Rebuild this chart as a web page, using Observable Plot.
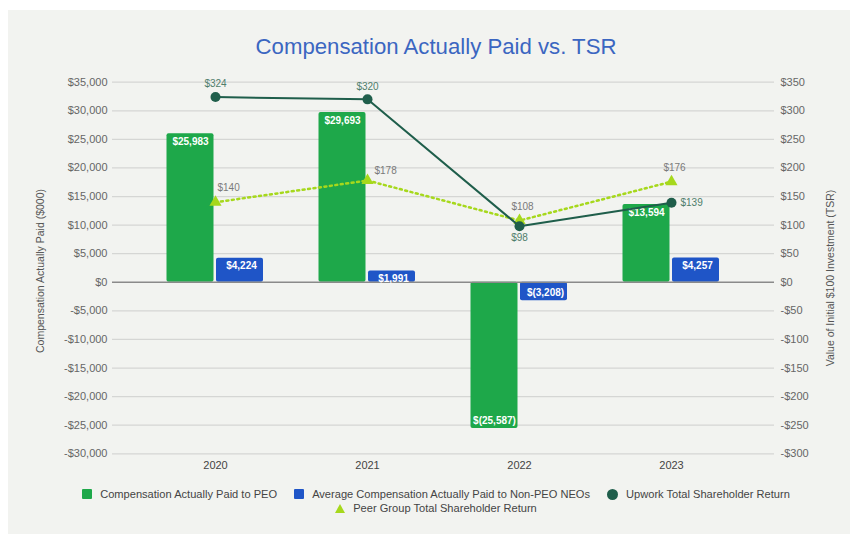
<!DOCTYPE html>
<html>
<head>
<meta charset="utf-8">
<script src="https://cdn.jsdelivr.net/npm/d3@7"></script>
<script src="https://cdn.jsdelivr.net/npm/@observablehq/plot@0.6"></script>
<style>
  body { margin: 0; background: #ffffff; font-family: "Liberation Sans", Arial, sans-serif; }
  #panel { position: absolute; left: 8px; top: 10px; width: 842px; height: 524px; background: #f2f3f0; }
  #title { position: absolute; left: 0; top: 34px; width: 872px; text-align: center; font-size: 22.2px; line-height: 26px; color: #3b66c1; }
  #chart { position: absolute; left: 0; top: 0; }
  .legend-row { position: absolute; left: 0; width: 872px; display: flex; justify-content: center; gap: 17px; font-size: 11.1px; line-height: 14px; color: #444; }
  .item { display: flex; align-items: center; gap: 8px; white-space: nowrap; }
  .sq { width: 10px; height: 10px; border-radius: 1px; }
  .circ { width: 11px; height: 11px; border-radius: 50%; }
  .tri { width: 0; height: 0; border-left: 5px solid transparent; border-right: 5px solid transparent; border-bottom: 9px solid #a6d81c; }
</style>
</head>
<body>
<div id="panel"></div>
<div id="title">Compensation Actually Paid vs. TSR</div>
<div id="chart"></div>
<div class="legend-row" style="top:487px">
  <div class="item"><div class="sq" style="background:#1ea84a"></div>Compensation Actually Paid to PEO</div>
  <div class="item"><div class="sq" style="background:#1f55c7"></div>Average Compensation Actually Paid to Non-PEO NEOs</div>
  <div class="item"><div class="circ" style="background:#1f5e4b"></div>Upwork Total Shareholder Return</div>
</div>
<div class="legend-row" style="top:501px">
  <div class="item"><div class="tri"></div>Peer Group Total Shareholder Return</div>
</div>
<script>
// ---- data ----
const years = ["2020", "2021", "2022", "2023"];
const peoCAP = [25983, 29693, -25587, 13594];       // $000
const neoCAP = [4224, 1991, -3208, 4257];           // $000
const upworkTSR = [324, 320, 98, 139];              // $
const peerTSR = [140, 178, 108, 176];               // $
const leftTicks = [35000, 30000, 25000, 20000, 15000, 10000, 5000, 0, -5000, -10000, -15000, -20000, -25000, -30000];
const rightTicks = [350, 300, 250, 200, 150, 100, 50, 0, -50, -100, -150, -200, -250, -300];

// right axis shares the left scale: $1 TSR == $100 (000) compensation
const K = 100;

const rows = years.map((year, i) => ({
  year, peo: peoCAP[i], neo: neoCAP[i], upwork: upworkTSR[i], peer: peerTSR[i]
}));

const comma = d3.format(",");
const fmtAxis = v => (v < 0 ? "-$" : "$") + comma(Math.abs(v));
const fmtBar = v => v < 0 ? "$(" + comma(-v) + ")" : "$" + comma(v);
const fmtTSR = v => "$" + v;

const GREEN = "#1ea84a", BLUE = "#1f55c7", DARK = "#1f5e4b", LIME = "#a6d81c";

const chart = Plot.plot({
  width: 850,
  height: 480,
  marginLeft: 112,
  marginRight: 76,
  marginTop: 81.7,
  marginBottom: 26.7,
  style: { background: "transparent", fontFamily: "'Liberation Sans', Arial, sans-serif", fontSize: "11px", overflow: "visible" },
  x: { type: "band", domain: years, paddingInner: 0, paddingOuter: 0.176 },
  y: { domain: [-30000, 35000] },
  marks: [
    Plot.ruleY(leftTicks.filter(d => d !== 0), { stroke: "#d5d6d4", strokeWidth: 1.2 }),
    Plot.axisY(leftTicks, { anchor: "left", tickSize: 0, tickPadding: 5, tickFormat: fmtAxis, color: "#666", label: null }),
    Plot.axisY(rightTicks.map(d => d * K), { anchor: "right", tickSize: 0, tickPadding: 6, tickFormat: d => fmtAxis(d / K), color: "#666", label: null }),
    Plot.axisX({ tickSize: 0, tickPadding: 7, color: "#444", label: null }),
    Plot.text(["Compensation Actually Paid ($000)"], { frameAnchor: "left", textAnchor: "middle", dx: -72, dy: 3, rotate: -90, fill: "#555", fontSize: 10.5 }),
    Plot.text(["Value of Initial $100 Investment (TSR)"], { frameAnchor: "right", textAnchor: "middle", dx: 56, dy: 10, rotate: -90, fill: "#555", fontSize: 10.5 }),
    // bars
    Plot.barY(rows, { x: "year", y: "peo", fill: GREEN, insetLeft: 27.5, insetRight: 77.5, rx: 2 }),
    Plot.barY(rows, { x: "year", y: "neo", fill: BLUE, insetLeft: 77, insetRight: 28, rx: 2 }),
    Plot.ruleY([0], { stroke: "#8a8a8a", strokeWidth: 1.5 }),
    // bar labels
    Plot.text(rows, { filter: d => d.peo >= 0, x: "year", y: "peo", text: d => fmtBar(d.peo), dx: -25, dy: 8, fill: "white", fontWeight: "bold", fontSize: 10 }),
    Plot.text(rows, { filter: d => d.peo < 0, x: "year", y: "peo", text: d => fmtBar(d.peo), dx: -25, dy: -8, fill: "white", fontWeight: "bold", fontSize: 10 }),
    Plot.text(rows, { filter: d => d.neo >= 0, x: "year", y: "neo", text: d => fmtBar(d.neo), dx: 26, dy: 8, fill: "white", fontWeight: "bold", fontSize: 10 }),
    Plot.text(rows, { filter: d => d.neo < 0, x: "year", y: "neo", text: d => fmtBar(d.neo), dx: 26, dy: -8, fill: "white", fontWeight: "bold", fontSize: 10 }),
    // peer line (dotted)
    Plot.line(rows, { x: "year", y: d => d.peer * K, stroke: LIME, strokeWidth: 2.5, strokeDasharray: "2 3.5" }),
    Plot.dot(rows, { x: "year", y: d => d.peer * K, symbol: "triangle", r: 4.5, fill: LIME }),
    // upwork line
    Plot.line(rows, { x: "year", y: d => d.upwork * K, stroke: DARK, strokeWidth: 2 }),
    Plot.dot(rows, { x: "year", y: d => d.upwork * K, r: 5, fill: DARK }),
    // upwork labels
    Plot.text(rows, { filter: (d, i) => i < 2, x: "year", y: d => d.upwork * K, text: d => fmtTSR(d.upwork), dy: -13, fill: "#4f7d6b", fontSize: 10 }),
    Plot.text(rows, { filter: (d, i) => i === 2, x: "year", y: d => d.upwork * K, text: d => fmtTSR(d.upwork), dy: 12, fill: "#4f7d6b", fontSize: 10 }),
    Plot.text(rows, { filter: (d, i) => i === 3, x: "year", y: d => d.upwork * K, text: d => fmtTSR(d.upwork), dx: 9, textAnchor: "start", fill: "#4f7d6b", fontSize: 10 }),
    // peer labels
    Plot.text(rows, { filter: (d, i) => i === 0, x: "year", y: d => d.peer * K, text: d => fmtTSR(d.peer), dx: 2, dy: -14, textAnchor: "start", fill: "#7a7a7a", fontSize: 10 }),
    Plot.text(rows, { filter: (d, i) => i === 1, x: "year", y: d => d.peer * K, text: d => fmtTSR(d.peer), dx: 7, dy: -10, textAnchor: "start", fill: "#7a7a7a", fontSize: 10 }),
    Plot.text(rows, { filter: (d, i) => i >= 2, x: "year", y: d => d.peer * K, text: d => fmtTSR(d.peer), dx: 3, dy: -14, fill: "#7a7a7a", fontSize: 10 })
  ]
});
document.getElementById("chart").appendChild(chart);
</script>
</body>
</html>
